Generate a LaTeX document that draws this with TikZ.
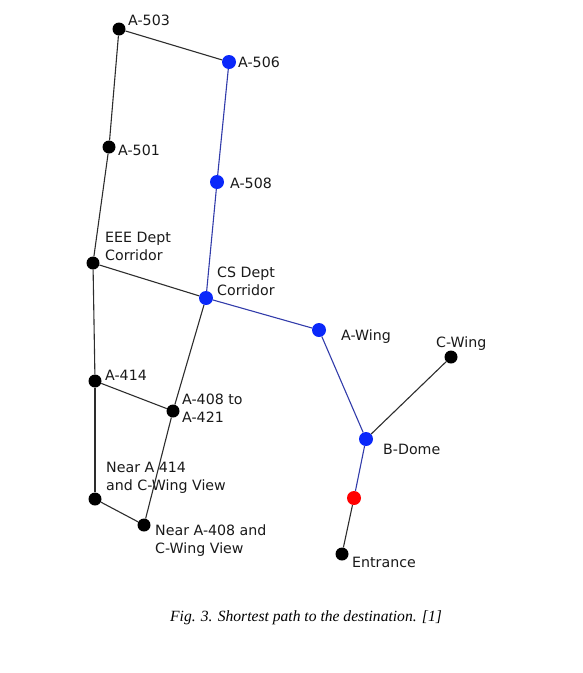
\documentclass[tikz,border=0pt]{standalone}
\usepackage{fontspec}
\setmainfont{DejaVu Sans}
\newfontfamily\capfont{Liberation Serif}
\definecolor{dotblue}{RGB}{10,40,250}
\definecolor{edgeblue}{RGB}{50,60,170}
\definecolor{edgegray}{RGB}{45,45,45}
\begin{document}
\begin{tikzpicture}[x=1pt,y=-1pt,
  bdot/.style={circle,fill=black,inner sep=0pt,minimum size=13pt},
  udot/.style={circle,fill=dotblue,inner sep=0pt,minimum size=14pt},
  rdot/.style={circle,fill=red,inner sep=0pt,minimum size=14pt},
  lbl/.style={anchor=west,inner sep=0pt,font=\fontsize{14.2}{18}\selectfont,align=left,text=black!90},
  gedge/.style={draw=edgegray,line width=1.1pt},
  bedge/.style={draw=edgeblue,line width=1.1pt}]
\useasboundingbox (0,0) rectangle (582,673);
% nodes
\node[bdot] (a503) at (119,29) {};
\node[udot] (a506) at (229,62) {};
\node[bdot] (a501) at (109,147) {};
\node[udot] (a508) at (217,182) {};
\node[bdot] (eee) at (93,263) {};
\node[udot] (cs) at (206,298) {};
\node[udot] (awing) at (319,330) {};
\node[bdot] (cwing) at (451,357) {};
\node[bdot] (a414) at (95,381) {};
\node[bdot] (a408) at (173,411) {};
\node[udot] (bdome) at (366,439) {};
\node[bdot] (n414) at (95,499) {};
\node[rdot] (red) at (354,498) {};
\node[bdot] (n408) at (144,525) {};
\node[bdot] (ent) at (342,554) {};
% labels
\node[lbl] (l503) at (128,20) {A-503};
\node[lbl] (l506) at (238,62) {A-506};
\node[lbl] (l501) at (118,150) {A-501};
\node[lbl] (l508) at (230,183) {A-508};
\node[lbl] (leee) at (105,246) {EEE Dept\\Corridor};
\node[lbl] (lcs) at (217,281) {CS Dept\\Corridor};
\node[lbl] (law) at (341,337) {A-Wing};
\node[lbl] (lcw) at (436,344) {C-Wing};
\node[lbl] (l414) at (105,375) {A-414};
\node[lbl] (l408) at (182,408) {A-408 to\\A-421};
\node[lbl] (lbd) at (383,449) {B-Dome};
\node[lbl] (ln414) at (106,478) {Near A 414\\and C-Wing View};
\node[lbl] (ln408) at (155,541) {Near A-408 and\\C-Wing View};
\node[lbl] (lent) at (352,562) {Entrance};
\node[font=\capfont\itshape\fontsize{15.6}{18}\selectfont,inner sep=0pt] (cap) at (306,618) {Fig. 3. Shortest path to the destination. [1]};
% edges drawn over
\path[gedge] (a503) -- (a506);
\path[gedge] (a503) -- (a501);
\path[bedge] (a506) -- (a508);
\path[bedge] (a508) -- (cs);
\path[gedge] (a501) -- (eee);
\path[gedge] (eee) -- (cs);
\path[bedge] (cs) -- (awing);
\path[bedge] (awing) -- (bdome);
\path[gedge] (cwing) -- (bdome);
\path[bedge] (bdome) -- (red);
\path[gedge] (red) -- (ent);
\path[gedge] (eee) -- (a414);
\path[gedge] (a414) -- (n414);
\path[gedge] (a414) -- (a408);
\path[gedge] (cs) -- (a408);
\path[gedge] (a408) -- (n408);
\path[gedge] (n414) -- (n408);
\end{tikzpicture}
\end{document}
